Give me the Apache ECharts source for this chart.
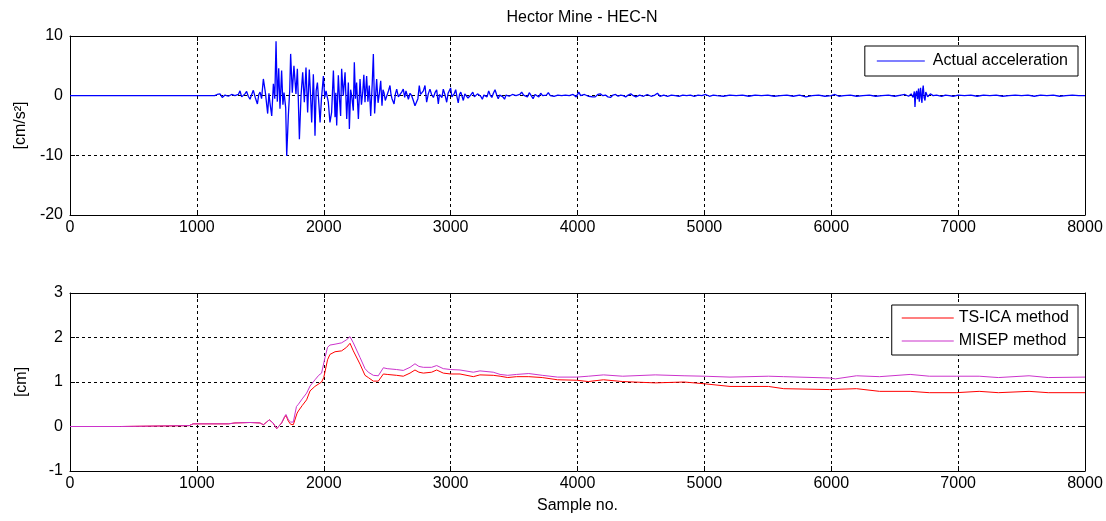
<!DOCTYPE html>
<html>
<head>
<meta charset="utf-8">
<script src="https://cdn.jsdelivr.net/npm/echarts@6/dist/echarts.min.js"></script>
<style>
  html, body { margin: 0; padding: 0; background: #fff; }
  #chart { width: 1106px; height: 521px; }
</style>
</head>
<body>
<div id="chart"></div>
<script>
// ---- Data ----
const chartTitle = 'Hector Mine - HEC-N';
const xTickValues = [0, 1000, 2000, 3000, 4000, 5000, 6000, 7000, 8000];

// Actual acceleration [cm/s^2] : [sample no., value]
const accelerationPoints = [
  [0,0],[1140,0],[1160,0.2],[1182,0.3],[1200,-0.3],[1209,-0.2],[1222,0.1],[1235,0.4],[1248,-0.1],[1261,-0.4],
  [1274,0.2],[1287,0.5],[1300,0],[1314,-0.3],[1327,0.2],[1340,0.8],[1353,-0.2],[1366,-0.5],[1379,0.3],[1392,0.7],
  [1405,-0.1],[1419,-0.6],[1432,0.2],[1445,0.9],[1460,-0.3],[1477,-1.4],[1488,0.2],[1498,0.6],[1510,-0.5],[1524,2.8],
  [1540,0.5],[1558,-3.0],[1568,0.4],[1576,-1.2],[1590,-3.4],[1603,2.0],[1614,-0.5],[1624,9.1],[1634,-1.0],[1645,4.6],
  [1655,-2.2],[1668,4.2],[1678,-1.5],[1687,0.5],[1700,-2.0],[1708,-10.1],[1721,-3.3],[1732,1.0],[1739,7.0],[1752,0.5],
  [1765,5.0],[1781,0.3],[1792,4.5],[1800,-1.0],[1808,-7.3],[1821,0],[1834,3.9],[1847,-1.1],[1860,4.7],[1873,-2.8],
  [1886,4.4],[1895,0.5],[1905,-4.5],[1918,3.6],[1925,-1.0],[1931,-6.7],[1940,0.8],[1950,2.2],[1962,-1.5],[1971,-4.5],
  [1982,-0.5],[1992,2.0],[1997,3.3],[2008,-0.3],[2018,0.8],[2036,-1.1],[2049,-4.5],[2062,-2.8],[2076,4.2],[2089,-3.6],
  [2095,0.5],[2102,-5.0],[2115,3.4],[2125,-0.8],[2133,-3.4],[2141,4.5],[2154,0],[2168,3.9],[2181,-3.9],[2194,2.2],
  [2202,-5.6],[2212,1.0],[2220,0],[2233,-2.5],[2241,5.6],[2250,-0.5],[2259,2.2],[2273,-3.9],[2286,2.8],[2297,-1.5],
  [2307,0.5],[2316,3.5],[2325,-1.1],[2338,3.3],[2348,-1.0],[2359,1.7],[2370,-3.4],[2382,2.0],[2391,7.0],[2401,-3.0],
  [2410,0.5],[2417,2.8],[2428,-1.2],[2438,0.3],[2449,2.5],[2459,-1.7],[2467,1.0],[2475,0.5],[2485,-0.8],[2496,-1.1],
  [2510,0.8],[2522,1.7],[2530,0.2],[2538,-0.5],[2554,-1.4],[2565,0.3],[2575,1.1],[2588,-0.2],[2601,-0.5],[2614,0.6],
  [2627,1.1],[2638,-0.3],[2648,0.8],[2667,-0.6],[2680,0.4],[2693,0],[2706,-0.8],[2719,-1.7],[2732,-2.0],[2742,-0.5],
  [2753,1.7],[2763,0.2],[2772,0],[2785,0.8],[2798,1.7],[2811,-1.1],[2824,0.3],[2837,1.1],[2850,0.2],[2864,-0.3],
  [2877,0.5],[2890,1.0],[2903,-1.4],[2912,0.2],[2921,0.5],[2932,-0.3],[2942,1.1],[2955,0.2],[2969,-1.1],[2980,0.4],
  [2990,0.6],[3000,1.3],[3010,-0.2],[3020,-0.5],[3030,0.4],[3040,1.0],[3050,-0.2],[3060,-1.2],[3070,0.2],[3080,0.6],
  [3090,-0.1],[3100,-0.8],[3112,0.3],[3125,0.5],[3137,-0.4],[3150,-0.3],[3162,0.2],[3175,0.6],[3187,-0.2],[3200,-0.4],
  [3212,0.3],[3225,0.5],[3237,-0.1],[3250,-0.6],[3262,0.1],[3275,0.3],[3287,-0.2],[3300,0.8],[3312,0.1],[3325,-0.3],
  [3337,0.4],[3350,1.0],[3362,0.2],[3375,-0.5],[3387,0.1],[3400,0.4],[3412,-0.2],[3425,-0.6],[3437,0.1],[3450,0.3],
  [3462,-0.1],[3475,-0.4],[3487,0.2],[3500,0.5],[3515,0.0],[3530,-0.3],[3545,0.2],[3560,0.6],[3575,0.1],[3590,0.2],
  [3605,-0.2],[3620,0.5],[3635,0.0],[3650,-0.5],[3665,0.2],[3680,0.1],[3695,-0.2],[3710,0.4],[3725,0.0],[3740,-0.3],
  [3755,0.1],[3770,0.5],[3785,0.0],[3800,0.2],[3815,-0.1],[3830,-0.4],[3845,0.1],[3860,0.3],[3875,0.0],[3890,-0.2],
  [3905,0.1],[3920,0.4],[3935,0.0],[3950,-0.2],[3965,0.2],[3980,0.1],[3990,-0.2],[4000,-0.3],[4010,0.6],[4025,0.0],
  [4040,-0.2],[4055,0.2],[4070,0.3],[4085,-0.1],[4100,0.1],[4120,-0.2],[4140,-0.2],[4160,0.2],[4180,0.3],[4200,0.0],
  [4220,0.1],[4240,-0.2],[4260,-0.3],[4280,0.1],[4300,0.2],[4320,-0.1],[4340,0.1],[4360,0.0],[4380,-0.2],[4400,0.1],
  [4420,0.3],[4440,0.0],[4460,-0.2],[4490,0.1],[4520,-0.1],[4550,0.2],[4580,-0.1],[4610,0.1],[4630,0.4],[4650,-0.1],
  [4680,0.1],[4710,-0.1],[4740,0.1],[4770,0.0],[4800,-0.1],[4830,0.1],[4860,0.0],[4890,0.1],[4920,-0.1],[4950,0.1],
  [4980,0.0],[5010,0.2],[5040,-0.1],[5070,0.1],[5100,0.0],[5150,-0.1],[5200,0.1],[5250,0.0],[5300,0.1],[5350,-0.1],
  [5400,0.1],[5450,0.0],[5500,0.1],[5550,-0.1],[5600,0.0],[5650,0.1],[5700,-0.1],[5750,0.1],[5800,-0.2],[5850,0.0],
  [5900,0.1],[5950,-0.1],[6000,0.0],[6030,0.2],[6060,-0.1],[6100,0.0],[6150,0.1],[6200,-0.1],[6250,0.0],[6300,0.1],
  [6350,-0.1],[6400,0.0],[6450,0.1],[6500,-0.1],[6550,0.1],[6580,0.2],[6610,-0.1],[6630,0.3],[6645,-0.3],[6655,0.7],
  [6660,-1.9],[6666,0.3],[6673,0.8],[6680,-0.6],[6688,1.2],[6694,-1.0],[6704,1.3],[6710,-0.4],[6715,-1.2],[6720,0.9],
  [6725,1.7],[6732,-0.3],[6739,-0.8],[6745,0.6],[6752,0.5],[6760,-0.2],[6773,-0.3],[6781,0.3],[6791,0.4],[6803,0.0],
  [6817,-0.2],[6830,0.1],[6844,0.2],[6870,-0.1],[6900,0.1],[6930,0.0],[6960,-0.1],[7000,0.1],[7050,0.0],[7100,0.1],
  [7150,-0.1],[7200,0.1],[7250,0.0],[7300,0.1],[7350,-0.1],[7400,0.0],[7450,0.1],[7500,0.0],[7550,0.1],[7600,-0.1],
  [7650,0.1],[7700,0.0],[7750,0.1],[7800,-0.1],[7850,0.0],[7900,0.1],[7950,0.0],[8000,0.0]
];

// Displacement [cm] : TS-ICA method
const tsicaPoints = [
  [0,0],[400,0],[410,0.02],[940,0.02],[950,0.04],[970,0.06],[1250,0.06],[1260,0.07],[1300,0.08],[1420,0.09],
  [1497,0.08],[1524,0.04],[1550,0.1],[1571,0.15],[1600,0.08],[1629,-0.05],[1650,0.02],[1668,0.08],[1690,0.2],[1702,0.25],
  [1721,0.12],[1739,0.05],[1760,0.04],[1773,0.04],[1790,0.3],[1800,0.35],[1830,0.47],[1865,0.6],[1892,0.8],[1930,0.9],
  [1983,1.0],[2000,1.1],[2030,1.5],[2049,1.62],[2089,1.68],[2141,1.7],[2180,1.78],[2207,1.87],[2233,1.7],[2286,1.4],
  [2325,1.15],[2351,1.1],[2391,1.02],[2430,1.02],[2470,1.18],[2500,1.17],[2574,1.15],[2627,1.13],[2680,1.2],[2719,1.27],
  [2750,1.22],[2785,1.2],[2850,1.22],[2890,1.27],[2942,1.2],[3000,1.18],[3074,1.18],[3179,1.12],[3231,1.16],[3336,1.15],
  [3390,1.13],[3450,1.1],[3520,1.12],[3616,1.12],[3722,1.1],[3843,1.05],[3994,1.04],[4085,1.01],[4205,1.05],[4356,1.01],
  [4613,0.98],[4840,1.0],[5000,0.96],[5202,0.9],[5505,0.9],[5625,0.85],[5988,0.83],[6199,0.85],[6381,0.79],[6622,0.79],
  [6773,0.76],[6985,0.76],[7166,0.79],[7317,0.76],[7559,0.79],[7710,0.76],[8000,0.76]
];

// Displacement [cm] : MISEP method
const misepPoints = [
  [0,0],[400,0],[410,0.02],[940,0.02],[950,0.04],[970,0.06],[1250,0.06],[1260,0.07],[1300,0.08],[1420,0.09],
  [1497,0.08],[1524,0.04],[1550,0.1],[1571,0.15],[1600,0.08],[1629,-0.05],[1650,0.02],[1668,0.08],[1690,0.22],[1702,0.27],
  [1721,0.15],[1739,0.1],[1760,0.1],[1773,0.1],[1785,0.45],[1800,0.5],[1830,0.62],[1865,0.75],[1892,0.91],[1931,1.05],
  [1960,1.15],[1983,1.2],[2010,1.55],[2030,1.78],[2049,1.83],[2089,1.85],[2141,1.88],[2180,1.95],[2207,2.02],[2233,1.88],
  [2286,1.55],[2325,1.3],[2351,1.22],[2391,1.15],[2430,1.14],[2470,1.32],[2500,1.3],[2574,1.28],[2627,1.26],[2680,1.33],
  [2719,1.41],[2750,1.35],[2785,1.33],[2850,1.33],[2890,1.37],[2942,1.3],[3000,1.28],[3074,1.27],[3179,1.22],[3231,1.25],
  [3336,1.22],[3390,1.17],[3450,1.15],[3520,1.17],[3616,1.19],[3722,1.15],[3843,1.11],[3994,1.11],[4085,1.13],[4205,1.16],
  [4356,1.13],[4613,1.16],[4840,1.14],[5000,1.13],[5202,1.11],[5505,1.13],[5625,1.12],[5988,1.09],[6033,1.07],[6199,1.14],
  [6381,1.12],[6622,1.17],[6773,1.13],[6985,1.13],[7166,1.13],[7317,1.1],[7559,1.14],[7710,1.1],[8000,1.11]
];

const topYRange = { min: -20, max: 10, interval: 10 };
const bottomYRange = { min: -1, max: 3, interval: 1 };
const xRange = { min: xTickValues[0], max: xTickValues[xTickValues.length - 1], interval: 1000 };

// ---- Chart ----
const FONT = '"Liberation Sans", Arial, Helvetica, sans-serif';
const FS = 16;
const chart = echarts.init(document.getElementById('chart'), null, { renderer: 'canvas' });

const gridLine = { show: true, lineStyle: { color: '#000', width: 1, type: [3, 3] } };
const axisLineBlack = { show: true, onZero: false, lineStyle: { color: '#000', width: 1 } };
const labelStyle = { color: '#000', fontSize: FS, fontFamily: FONT };
const plainNumber = (v) => String(v);

function mainX(gridIndex, extra) {
  return Object.assign({
    type: 'value', gridIndex, min: xRange.min, max: xRange.max, interval: xRange.interval,
    axisLine: axisLineBlack,
    axisTick: { show: true, inside: true, length: 5, lineStyle: { color: '#000' } },
    axisLabel: Object.assign({ margin: 5, showMinLabel: true, showMaxLabel: true, formatter: plainNumber }, labelStyle),
    splitLine: gridLine
  }, extra || {});
}
function topX(gridIndex) {
  return {
    type: 'value', gridIndex, position: 'top', min: xRange.min, max: xRange.max, interval: xRange.interval,
    axisLine: axisLineBlack,
    axisTick: { show: true, inside: true, length: 5, lineStyle: { color: '#000' } },
    axisLabel: { show: false }, splitLine: { show: false }
  };
}
function mainY(gridIndex, range, name) {
  return {
    type: 'value', gridIndex, min: range.min, max: range.max, interval: range.interval,
    name: name, nameLocation: 'middle', nameGap: 40, nameRotate: 90,
    nameTextStyle: { color: '#000', fontSize: FS, fontFamily: FONT },
    axisLine: axisLineBlack,
    axisTick: { show: true, inside: true, length: 5, lineStyle: { color: '#000' } },
    axisLabel: Object.assign({ margin: 7, formatter: plainNumber }, labelStyle),
    splitLine: gridLine
  };
}
function rightY(gridIndex, range) {
  return {
    type: 'value', gridIndex, position: 'right', min: range.min, max: range.max, interval: range.interval,
    axisLine: axisLineBlack,
    axisTick: { show: true, inside: true, length: 5, lineStyle: { color: '#000' } },
    axisLabel: { show: false }, splitLine: { show: false }
  };
}

const option = {
  animation: false,
  backgroundColor: '#fff',
  textStyle: { fontFamily: FONT, color: '#000' },
  title: {
    text: chartTitle, left: 577, top: 5, textAlign: 'center',
    textStyle: { fontSize: FS, fontWeight: 'normal', color: '#000', fontFamily: FONT }
  },
  grid: [
    { left: 70, right: 21, top: 36, height: 179 },
    { left: 70, right: 21, top: 293, height: 178 }
  ],
  xAxis: [
    mainX(0),
    mainX(1, { name: 'Sample no.', nameLocation: 'middle', nameGap: 27,
      nameTextStyle: { color: '#000', fontSize: FS, fontFamily: FONT } }),
    topX(0),
    topX(1)
  ],
  yAxis: [
    mainY(0, topYRange, '[cm/s²]'),
    mainY(1, bottomYRange, '[cm]'),
    rightY(0, topYRange),
    rightY(1, bottomYRange)
  ],
  legend: [
    {
      data: ['Actual acceleration'], right: 28, top: 46, orient: 'vertical', icon: 'rect',
      backgroundColor: '#fff', borderColor: '#000', borderWidth: 1, borderRadius: 0,
      padding: [7, 10, 7, 12], itemWidth: 48, itemHeight: 1, itemGap: 7,
      textStyle: { fontSize: FS, lineHeight: 16, color: '#000', fontFamily: FONT, padding: [0, 0, 0, 3] }
    },
    {
      data: ['TS-ICA method', 'MISEP method'], right: 28, top: 305, orient: 'vertical', icon: 'rect',
      backgroundColor: '#fff', borderColor: '#000', borderWidth: 1, borderRadius: 0,
      padding: [5, 9, 6, 10], itemWidth: 52, itemHeight: 1, itemGap: 7,
      textStyle: { fontSize: FS, lineHeight: 16, color: '#000', fontFamily: FONT }
    }
  ],
  series: [
    {
      name: 'Actual acceleration', type: 'line', xAxisIndex: 0, yAxisIndex: 0,
      data: accelerationPoints, symbol: 'none', showSymbol: false,
      lineStyle: { color: '#0000ff', width: 1.3 }, itemStyle: { color: '#0000ff' }, z: 3
    },
    {
      name: 'TS-ICA method', type: 'line', xAxisIndex: 1, yAxisIndex: 1,
      data: tsicaPoints, symbol: 'none', showSymbol: false,
      lineStyle: { color: '#ff0000', width: 1 }, itemStyle: { color: '#ff0000' }, z: 3
    },
    {
      name: 'MISEP method', type: 'line', xAxisIndex: 1, yAxisIndex: 1,
      data: misepPoints, symbol: 'none', showSymbol: false,
      lineStyle: { color: '#cc33cc', width: 1 }, itemStyle: { color: '#cc33cc' }, z: 3
    }
  ]
};
chart.setOption(option);
</script>
</body>
</html>
